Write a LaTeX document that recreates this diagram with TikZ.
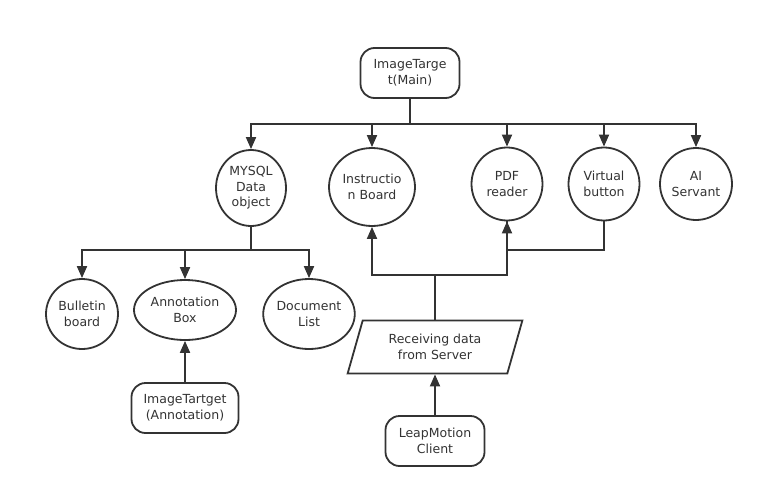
\documentclass[tikz,border=0pt]{standalone}
\usepackage{fontspec}
\setmainfont{DejaVu Sans}
\usetikzlibrary{shapes.geometric,arrows.meta}
\definecolor{ln}{HTML}{333333}

\tikzset{
  box/.style={draw=ln, line width=1.8pt, rounded corners=14pt, align=center,
    minimum width=99pt, minimum height=50pt, inner sep=2pt},
  oval/.style={draw=ln, line width=1.8pt, ellipse, align=center, inner sep=0pt},
  slant/.style={draw=ln, line width=1.8pt, trapezium, trapezium left angle=72,
    trapezium right angle=108, trapezium stretches=true, align=center,
    minimum width=175pt, minimum height=53pt},
  arr/.style={draw=ln, line width=1.8pt, -{Triangle[length=12pt,width=10pt]}},
  wire/.style={draw=ln, line width=1.8pt}
}

\begin{document}
\begin{tikzpicture}[x=1pt, y=-1pt, every node/.style={font=\fontsize{12.5}{15.5}\selectfont, text=ln}]
\useasboundingbox (0, 0) rectangle (763, 498);
\fill [white] (0, 0) rectangle (763, 498);

% top row
\node [box] (main) at (410, 73) {ImageTarge\\t(Main)};
\node [oval, minimum width=70pt, minimum height=76pt] (mysql) at (251, 188) {MYSQL\\Data\\object};
\node [oval, minimum width=86pt, minimum height=78pt] (instr) at (372, 187) {Instructio\\n Board};
\node [oval, minimum width=71pt, minimum height=73pt] (pdf) at (507, 184) {PDF\\reader};
\node [oval, minimum width=71pt, minimum height=73pt] (virt) at (604, 184) {Virtual\\button};
\node [oval, minimum width=72pt, minimum height=72pt] (ai) at (696, 184) {AI\\Servant};

% bottom left
\node [oval, minimum width=72pt, minimum height=70pt] (bull) at (82, 314) {Bulletin\\board};
\node [oval, minimum width=102pt, minimum height=60pt] (annot) at (185, 310) {Annotation\\Box};
\node [oval, minimum width=88pt, minimum height=70pt] (doc) at (309, 314) {Document\\List};
\node [box, minimum width=107pt] (imgann) at (185, 408) {ImageTartget\\(Annotation)};

% bottom right
\node [slant] (recv) at (435, 347) {Receiving data\\from Server};
\node [box] (leap) at (435, 441) {LeapMotion\\Client};

\draw [arr] (main.south) -- (main.south |- 0, 124) -| (mysql.north);
\draw [arr] (main.south) -- (main.south |- 0, 124) -| (instr.north);
\draw [arr] (main.south) -- (main.south |- 0, 124) -| (pdf.north);
\draw [arr] (main.south) -- (main.south |- 0, 124) -| (virt.north);
\draw [arr] (main.south) -- (main.south |- 0, 124) -| (ai.north);

\draw [arr] (mysql.south) -- (mysql.south |- 0, 250) -| (bull.north);
\draw [arr] (mysql.south) -- (mysql.south |- 0, 250) -| (annot.north);
\draw [arr] (mysql.south) -- (mysql.south |- 0, 250) -| (doc.north);
\draw [arr] (imgann) -- (annot);

\draw [arr] (recv.north) -- (recv.north |- 0, 275) -| (instr.south);
\draw [arr] (recv.north) -- (recv.north |- 0, 275) -| (pdf.south);
\draw [wire] (virt.south) -- (virt.south |- 0, 250) -| (pdf.south);
\draw [arr] (leap) -- (recv);
\end{tikzpicture}
\end{document}
